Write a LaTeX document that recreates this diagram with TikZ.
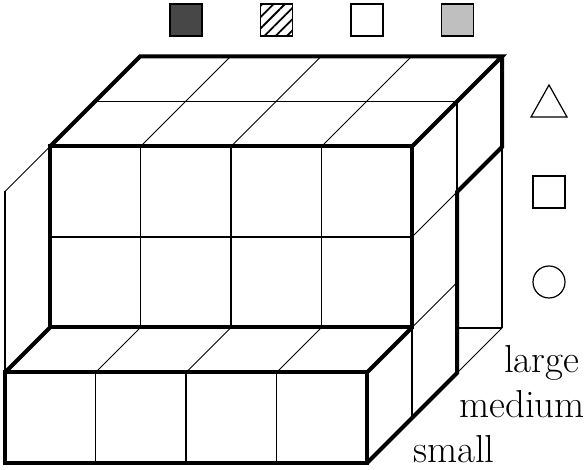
\documentclass[tikz,border=0pt]{standalone}
\usetikzlibrary{patterns.meta}
\begin{document}
\begin{tikzpicture}[x=1pt,y=1pt,
  thk/.style={line width=4pt},
  reg/.style={line width=1.5pt},
  thn/.style={line width=0.8pt},
  legsq/.style={draw,line width=1.4pt,minimum size=32pt,inner sep=0pt},
  lab/.style={anchor=base west,inner sep=0pt,font=\fontsize{39}{45}\selectfont}]
\useasboundingbox (0,0) rectangle (588,470);
\begin{scope}[shift={(5pt,7pt)},x={(90.5pt,0pt)},y={(0pt,90.5pt)},z={(45pt,45pt)}]
  % ---- small slice (z 0..1), front face
  \foreach \i in {1,2,3} \draw[reg] (\i,0,0) -- (\i,1,0);
  \foreach \i in {1,2,3} \draw[thn] (\i,1,0) -- (\i,1,1);
  % ---- medium front face (z=1)
  \foreach \i in {1,2,3} \draw[reg] (\i,1,1) -- (\i,3,1);
  \draw[reg] (0,2,1) -- (4,2,1);
  % ---- top face (y=3)
  \foreach \i in {1,2,3} \draw[thn] (\i,3,1) -- (\i,3,3);
  \draw[reg] (0,3,2) -- (4,3,2);
  % ---- left thin outline of small slice
  \draw[reg] (0,1,0) -- (0,3,0);
  \draw[thn] (0,3,0) -- (0,3,1);
  % ---- right side wire lines
  \draw[reg] (4,0,1) -- (4,1,1);
  \draw[thn] (4,1,1) -- (4,1,2);
  \draw[thn] (4,2,1) -- (4,2,2);
  \draw[reg] (4,2,2) -- (4,3,2);
  \draw[reg] (4,0,3) -- (4,2,3);
  \draw[thn] (4,0,2) -- (4,0,3);
  \coordinate (b3) at (4,0,3);
  \coordinate (v2) at (4,0,2);
  \draw[reg] (b3) -- (b3 -| v2);
  % ---- thick outlines
  \draw[thk] (0,0,0) rectangle (4,1,0);
  \draw[thk] (0,1,0) -- (0,1,1);
  \draw[thk] (4,1,0) -- (4,1,1);
  \draw[thk] (0,1,1) -- (4,1,1) -- (4,3,1) -- (0,3,1) -- cycle;
  \draw[thk] (0,3,1) -- (0,3,3) -- (4,3,3) -- (4,3,1);
  \draw[thk] (4,0,0) -- (4,0,2) -- (4,2,2) -- (4,2,3) -- (4,3,3);
\end{scope}
% ---- legend squares (top)
\node[legsq,fill=black!72] (sqa) at (186,450) {};
\node[legsq,pattern={Lines[angle=45,distance=8pt,line width=1.8pt]}] (sqb) at (276.5,450) {};
\node[legsq,fill=white] (sqc) at (367,450) {};
\node[legsq,fill=black!25] (sqd) at (457.5,450) {};
% ---- shapes (right)
\draw[line width=1.2pt] (531,353) -- (567,353) -- (549,385) -- cycle;
\node[draw,line width=1.2pt,minimum size=32pt,inner sep=0pt] (shsq) at (549,278) {};
\node[draw,circle,line width=1.2pt,minimum size=32pt,inner sep=0pt] (shci) at (549,188) {};
% ---- labels
\node[lab] (lsmall) at (413,7) {small};
\node[lab] (lmed) at (459,52) {medium};
\node[lab] (llarge) at (504,97) {large};
\end{tikzpicture}
\end{document}
